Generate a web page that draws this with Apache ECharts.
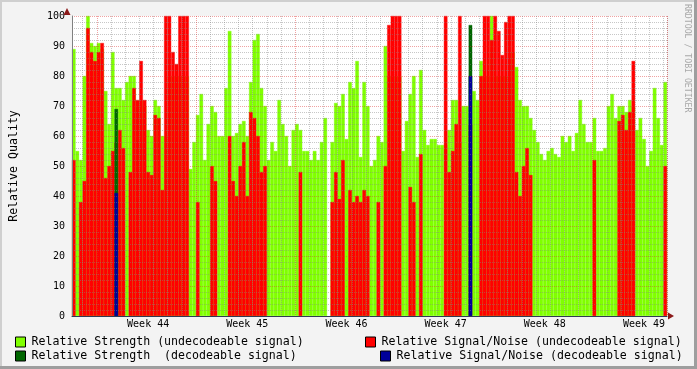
<!DOCTYPE html>
<html>
<head>
<meta charset="utf-8">
<script src="https://cdn.jsdelivr.net/npm/echarts@6/dist/echarts.min.js"></script>
<style>html,body{margin:0;padding:0;background:#f3f3f3;}#c{width:697px;height:369px;}</style>
</head>
<body>
<div id="c"></div>
<script>
// quarter-day samples, 168 slots (6 weeks)
const strengthUndec = [
89,55,52,80,100,91,90,91,89,75,64,88,76,76,72,78,80,80,70,72,
70,62,60,72,70,60,60,80,80,80,80,80,80,49,58,67,74,52,64,70,
68,60,60,76,95,60,61,64,65,60,78,92,94,76,70,52,58,55,72,64,
60,50,62,64,62,55,55,52,55,52,58,66,0,58,71,70,74,59,78,76,
85,53,78,70,50,52,60,58,90,80,80,80,80,55,65,74,80,53,82,62,
57,59,59,57,57,57,62,72,72,58,70,70,80,75,72,85,80,80,100,80,
80,80,80,80,88,83,72,70,70,66,62,58,54,52,55,56,54,53,60,58,
60,55,61,72,64,58,58,66,55,55,56,70,74,66,70,70,68,72,70,62,
66,59,50,55,76,66,57,78];
const snrUndec = [
52,0,38,45,96,88,85,88,91,46,50,55,58,62,56,0,48,76,72,85,
72,48,47,67,66,42,100,100,88,84,100,100,100,0,0,38,0,0,0,50,
45,0,0,0,60,45,40,50,58,40,68,66,60,48,50,0,0,0,0,0,
0,0,0,0,48,0,0,0,0,0,0,0,0,38,48,39,52,0,42,38,
40,38,42,40,0,0,38,0,50,97,100,100,100,0,0,43,38,0,54,0,
0,0,0,0,0,100,48,55,64,100,0,0,64,0,0,80,100,100,92,100,
95,87,98,100,100,48,40,50,56,47,0,0,0,0,0,0,0,0,0,0,
0,0,0,0,0,0,0,52,0,0,0,0,0,0,65,67,62,68,85,0,
0,0,0,0,0,0,0,50];
// decodeable signal: only two short moments
const strengthDecSlots = [12, 112];
const strengthDecValues = [69, 97];
const snrDecSlots = [12, 112];
const snrDecValues = [41, 80];

const weekLabels = ['Week 44','Week 45','Week 46','Week 47','Week 48','Week 49'];
const firstWeekLabelSlot = 21, slotsPerWeek = 28, firstDayLineSlot = 3, slotsPerDay = 4, firstWeekLineSlot = 7;

const yTicks = [0,10,20,30,40,50,60,70,80,90,100];

const names = [
  'Relative Strength (undecodeable signal)',
  'Relative Signal/Noise (undecodeable signal)',
  'Relative Strength  (decodeable signal)',
  'Relative Signal/Noise (decodeable signal)'
];
const colors = ['#80ff00', '#ff0000', '#006600', '#000099'];

const n = strengthUndec.length;
const cats = Array.from({length: n}, (_, i) => String(i));
function sparse(slots, vals) {
  const a = new Array(n).fill('-');
  slots.forEach((s, k) => { a[s] = vals[k]; });
  return a;
}
const toBar = arr => arr.map(v => v === 0 ? '-' : v);

const FONT = 'DejaVu Sans Mono';
const chart = echarts.init(document.getElementById('c'), null, {renderer: 'canvas'});

function legendAt(name, left, top) {
  return {
    data: [name], left: left, top: top, padding: 0, orient: 'horizontal',
    selectedMode: false, icon: 'rect', itemWidth: 10, itemHeight: 10,
    itemStyle: {borderColor: '#000', borderWidth: 1},
    textStyle: {fontFamily: FONT, fontSize: 11.6, color: '#000', padding: [0,0,0,1]}
  };
}

const barSeries = (i, data) => ({
  name: names[i], type: 'bar', xAxisIndex: 0, yAxisIndex: 0,
  data: data, barWidth: '100%', barGap: '-100%', barCategoryGap: '0%',
  itemStyle: {color: colors[i], borderColor: colors[i], borderWidth: 0.4},
  emphasis: {disabled: true}, animation: false, z: 2 + i
});

chart.setOption({
  backgroundColor: '#f3f3f3',
  animation: false,
  grid: {left: 67, right: 30, top: 16, bottom: 53, show: true, backgroundColor: '#ffffff', borderWidth: 0},
  legend: [
    legendAt(names[0], 15, 336),
    legendAt(names[1], 365, 336),
    legendAt(names[2], 15, 350),
    legendAt(names[3], 380, 350)
  ],
  xAxis: [
    {
      type: 'category', data: cats, boundaryGap: true, z: 10,
      axisLine: {show: true, lineStyle: {color: '#2f3a55', width: 1}},
      axisTick: {show: false}, axisLabel: {show: false},
      splitLine: {show: true, interval: (i) => (i - firstDayLineSlot) % slotsPerDay === 0 && (i - firstWeekLineSlot) % slotsPerWeek !== 0,
        lineStyle: {color: 'rgba(130,130,130,0.45)', type: [1, 1], width: 1}}
    },
    {
      type: 'category', data: cats, boundaryGap: true, z: 11, position: 'bottom',
      axisLine: {show: false}, axisTick: {show: false},
      axisLabel: {show: true, interval: (i) => i >= firstWeekLabelSlot && (i - firstWeekLabelSlot) % slotsPerWeek === 0,
        formatter: (v, i) => weekLabels[(i - firstWeekLabelSlot) / slotsPerWeek] || '',
        fontFamily: FONT, fontSize: 10, color: '#000', margin: 3},
      splitLine: {show: true, interval: (i) => i >= firstWeekLineSlot && (i - firstWeekLineSlot) % slotsPerWeek === 0,
        lineStyle: {color: 'rgba(222,48,48,0.45)', type: [1, 1], width: 1}}
    }
  ],
  yAxis: {
    type: 'value', min: yTicks[0], max: yTicks[yTicks.length - 1], interval: yTicks[1] - yTicks[0], z: 10,
    name: 'Relative Quality', nameLocation: 'middle', nameGap: 52, nameRotate: 90,
    nameTextStyle: {fontFamily: FONT, fontSize: 11.6, color: '#000'},
    axisLine: {show: true, lineStyle: {color: '#808080', width: 1}},
    axisTick: {show: false},
    axisLabel: {fontFamily: FONT, fontSize: 10, color: '#000', margin: 7},
    splitLine: {show: true, lineStyle: {color: 'rgba(222,48,48,0.45)', type: [1, 1], width: 1}},
    minorTick: {show: false, splitNumber: 5},
    minorSplitLine: {show: true, lineStyle: {color: 'rgba(130,130,130,0.45)', type: [1, 1], width: 1}}
  },
  series: [
    barSeries(0, toBar(strengthUndec)),
    barSeries(1, toBar(snrUndec)),
    barSeries(2, sparse(strengthDecSlots, strengthDecValues)),
    barSeries(3, sparse(snrDecSlots, snrDecValues))
  ],
  graphic: [
    {type: 'rect', shape: {x: 0, y: 0, width: 697, height: 2}, style: {fill: '#cfcfcf'}, silent: true},
    {type: 'rect', shape: {x: 0, y: 0, width: 2, height: 369}, style: {fill: '#cfcfcf'}, silent: true},
    {type: 'rect', shape: {x: 694, y: 0, width: 3, height: 369}, style: {fill: '#9e9e9e'}, silent: true},
    {type: 'rect', shape: {x: 0, y: 366, width: 697, height: 3}, style: {fill: '#9e9e9e'}, silent: true},
    {type: 'polygon', shape: {points: [[63.5, 15], [70.5, 15], [67, 8]]}, style: {fill: '#8b1a1a'}, silent: true, z: 20},
    {type: 'polygon', shape: {points: [[668, 312.5], [668, 319.5], [674, 316]]}, style: {fill: '#8b1a1a'}, silent: true, z: 20},
    {type: 'text', x: 691, y: 4, rotation: -Math.PI / 2, silent: true,
      style: {text: 'RRDTOOL / TOBI OETIKER', fontFamily: FONT, fontSize: 8.2, fill: '#a8a8a8', textAlign: 'left', textVerticalAlign: 'top'}}
  ]
});
</script>
</body>
</html>
